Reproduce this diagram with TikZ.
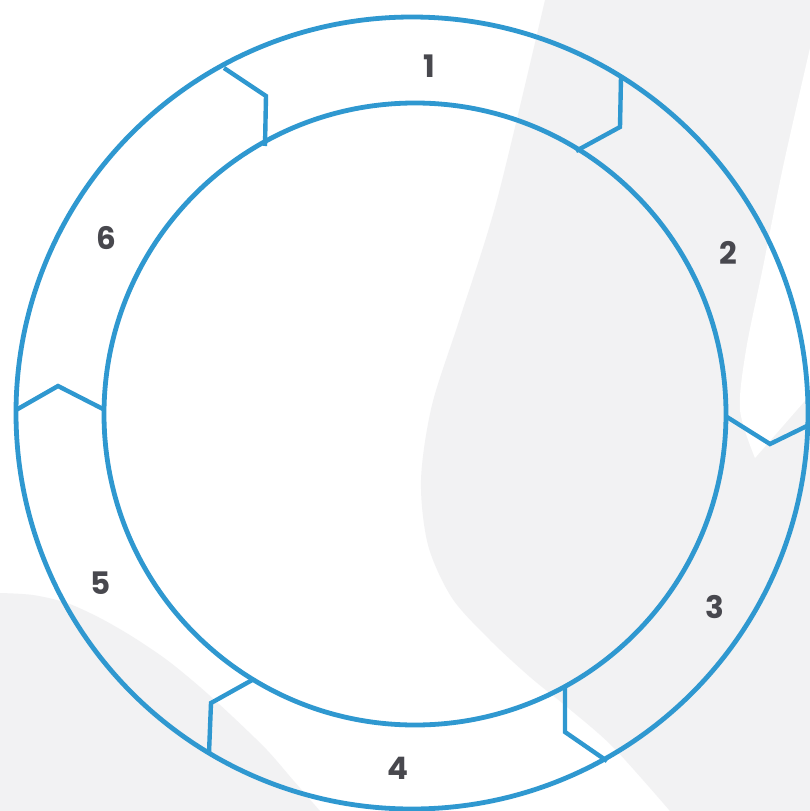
\documentclass[tikz,border=0pt]{standalone}
\usepackage{fontspec}
\setmainfont{Poppins}
\definecolor{ringblue}{RGB}{47,152,208}
\definecolor{swoosh}{RGB}{242,242,243}
\definecolor{digitgray}{RGB}{72,72,78}
\begin{document}
\begin{tikzpicture}[x=1pt, y=-1pt,
    ring/.style={draw=ringblue, line width=4.8pt},
    divider/.style={draw=ringblue, line width=4.4pt, line join=miter},
    steplabel/.style={text=digitgray, font=\fontsize{31}{31}\selectfont\bfseries, inner sep=0pt}]
    \useasboundingbox (0,0) rectangle (810,811);
    \fill[white] (0,0) rectangle (810,811);
    % background shapes
    \fill[swoosh] (545,0) -- (810,0) -- (810,811) -- (670,811)
        -- plot[smooth] coordinates {(670,811) (613,747) (567,707) (530,677) (490,640) (452,598) (428,545) (421,480) (432,405) (460,318) (497,200) (545,0)} -- cycle;
    \fill[white] plot[smooth] coordinates {(810,48) (783,167) (763,267) (746,350) (740,410) (755,458)} -- (810,395) -- cycle;
    \fill[swoosh] (0,811) -- plot[smooth] coordinates {(0,593) (33,595) (67,603) (100,618) (133,637) (167,660) (200,687) (233,717) (267,750) (293,780) (320,811)} -- cycle;
    % rings
    \coordinate (outerc) at (412,413);
    \coordinate (innerc) at (415,414);
    \draw[ring] (outerc) circle (396pt);
    \draw[ring] (innerc) circle (311pt);
    % dividers between the steps
    \draw[divider] (224,68) -- (266,96) -- (265,146);
    \draw[divider] (621,77) -- (620,127) -- (576,151);
    \draw[divider] (727,417) -- (770,444) -- (811,424);
    \draw[divider] (607,761) -- (565,732) -- (565,686);
    \draw[divider] (254,679) -- (211,703) -- (209,753);
    \draw[divider] (16,410) -- (58,386) -- (103,409);
    % step numbers
    \node[steplabel] (lbl1) at (429,66) {1};
    \node[steplabel] (lbl2) at (728,253) {2};
    \node[steplabel] (lbl3) at (715,607) {3};
    \node[steplabel] (lbl4) at (398,768) {4};
    \node[steplabel] (lbl5) at (101,583) {5};
    \node[steplabel] (lbl6) at (106,238) {6};
\end{tikzpicture}
\end{document}
